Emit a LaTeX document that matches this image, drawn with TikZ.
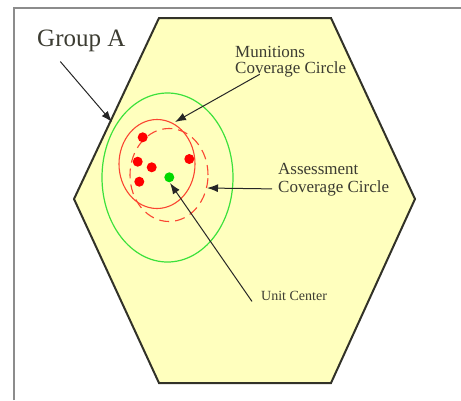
\documentclass[tikz,border=0pt]{standalone}
\usepackage{fontspec}
\setmainfont{Liberation Serif}
\usetikzlibrary{positioning,arrows.meta}

\definecolor{hexfill}{RGB}{255,255,190}
\definecolor{hexline}{RGB}{50,50,40}
\definecolor{covgreen}{RGB}{60,225,60}
\definecolor{covred}{RGB}{250,70,50}
\definecolor{labelgray}{RGB}{60,60,50}

\tikzset{
	pointer/.style={-{Latex[length=11pt,width=8pt]}, line width=1pt, black!85},
	lbl/.style={text=labelgray, inner sep=0pt, align=left},
	unitdot/.style={fill=red}
}

\begin{document}
\begin{tikzpicture}[x=1pt, y=-1pt]
		\useasboundingbox (0,0) rectangle (461,400);
		% Frame
		\draw[gray!90, line width=1.5pt] (14,400) -- (14,8) -- (461,8);
		
		% Hexagon (Group A)
		\draw[fill=hexfill, draw=hexline, line width=2pt, line join=miter]
			(159,18) -- (331,18) -- (415,199) -- (331,383) -- (159,383) -- (74,199) -- cycle;
		
		% Coverage circles
		\draw[covgreen, line width=1.2pt] (167.5,177.5) ellipse [x radius=65.5pt, y radius=84.5pt];
		\draw[covred, line width=1.1pt] (157,164) ellipse [x radius=38pt, y radius=44.5pt];
		\draw[covred, line width=1.1pt, dash pattern=on 10pt off 6pt] (169,175) ellipse [x radius=39pt, y radius=46.5pt];
		
		% Munitions and unit center
		\foreach \px/\py in {142.7/137.3, 137.7/161.7, 151.7/167.3, 139.3/181.7, 189.3/159}
			\fill[unitdot] (\px,\py) circle (5pt);
		\fill[green!85!black] (169.3,177.3) circle (5pt);
		
		% Labels
		\node[lbl, anchor=base west, font=\fontsize{25}{30}\selectfont] (grp) at (37,46) {Group A};
		\node[lbl, anchor=north west, font=\fontsize{17}{16}\selectfont] (mun) at (235,46) {Munitions\\Coverage Circle};
		\node[lbl, anchor=north west, font=\fontsize{17}{18.5}\selectfont] (ass) at (278,163) {Assessment\\Coverage Circle};
		\node[lbl, anchor=base west, font=\fontsize{14}{16}\selectfont] (uc) at (261,300) {Unit Center};
		
		% Arrow tips
		\coordinate (grptip) at (112,122);
		\coordinate (muntip) at (175,122);
		\coordinate (asstip) at (207,188);
		\coordinate (uctip) at (170,183);
		
		% Arrows
		\draw[pointer] ([xshift=-21pt,yshift=-10pt]grp.south) -- (grptip);
		\draw[pointer] ([xshift=-31pt,yshift=3pt]mun.south) -- (muntip);
		\draw[pointer] ([xshift=-6pt,yshift=-9pt]ass.west) -- (asstip);
		\draw[pointer] ([xshift=-9pt,yshift=-6pt]uc.west) -- (uctip);
	\end{tikzpicture}
\end{document}
